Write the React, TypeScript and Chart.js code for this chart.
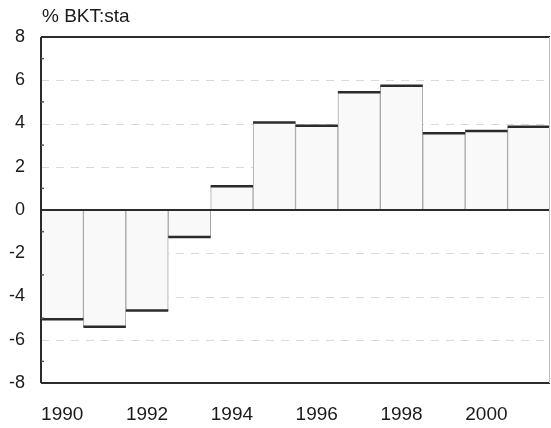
import React, { useEffect, useRef } from "react";
import { Chart, registerables } from "chart.js";

Chart.register(...registerables);

const years = ["1990", "1991", "1992", "1993", "1994", "1995", "1996", "1997", "1998", "1999", "2000", "2001"];
const values = [-5.05, -5.4, -4.65, -1.25, 1.1, 4.05, 3.9, 5.45, 5.75, 3.55, 3.65, 3.85];
const gridValues = [-6, -4, -2, 2, 4, 6];
const minorTickValues = [-7, -5, -3, -1, 1, 3, 5, 7];
const titleText = "% BKT:sta";
const FONT = "'Liberation Sans', Arial, Helvetica, sans-serif";

const deco = {
  id: "deco",
  beforeDatasetsDraw(chart: any) {
    const { ctx, chartArea: a, scales } = chart;
    const y = scales.y;
    ctx.save();
    ctx.strokeStyle = "rgba(0,0,0,0.15)";
    ctx.lineWidth = 1;
    ctx.setLineDash([8, 7]);
    for (const v of gridValues) {
      const py = Math.round(y.getPixelForValue(v)) + 0.5;
      ctx.beginPath();
      ctx.moveTo(a.left, py);
      ctx.lineTo(a.right, py);
      ctx.stroke();
    }
    ctx.restore();
  },
  afterDatasetsDraw(chart: any) {
    const { ctx, chartArea: a, scales } = chart;
    const y = scales.y;
    ctx.save();
    // bar value edges
    const meta = chart.getDatasetMeta(0);
    ctx.strokeStyle = "#2b2b2b";
    ctx.lineWidth = 2.5;
    meta.data.forEach((el: any) => {
      const p = el.getProps(["x", "y", "width"], true);
      ctx.beginPath();
      ctx.moveTo(p.x - p.width / 2, p.y);
      ctx.lineTo(p.x + p.width / 2, p.y);
      ctx.stroke();
    });
    // zero line
    const y0 = y.getPixelForValue(0);
    ctx.lineWidth = 2;
    ctx.strokeStyle = "#2b2b2b";
    ctx.beginPath();
    ctx.moveTo(a.left, y0);
    ctx.lineTo(a.right, y0);
    ctx.stroke();
    // frame
    ctx.beginPath();
    ctx.moveTo(a.left, a.top);
    ctx.lineTo(a.right, a.top);
    ctx.moveTo(a.left, a.bottom);
    ctx.lineTo(a.right, a.bottom);
    ctx.moveTo(a.left, a.top);
    ctx.lineTo(a.left, a.bottom);
    ctx.stroke();
    ctx.lineWidth = 1;
    ctx.strokeStyle = "#c0c0c0";
    ctx.beginPath();
    ctx.moveTo(a.right - 0.5, a.top);
    ctx.lineTo(a.right - 0.5, a.bottom);
    ctx.stroke();
    // minor ticks
    ctx.strokeStyle = "#555";
    ctx.lineWidth = 1.5;
    for (const v of minorTickValues) {
      const py = y.getPixelForValue(v);
      ctx.beginPath();
      ctx.moveTo(a.left, py);
      ctx.lineTo(a.left + 3, py);
      ctx.stroke();
    }
    // title
    ctx.fillStyle = "#1a1a1a";
    ctx.font = `19px ${FONT}`;
    ctx.textAlign = "left";
    ctx.textBaseline = "middle";
    ctx.fillText(titleText, a.left + 1, 17);
    ctx.restore();
  },
};

export default function App() {
  const ref = useRef<HTMLCanvasElement>(null);
  useEffect(() => {
    document.body.style.margin = "0";
    const chart = new Chart(ref.current!, {
      type: "bar",
      data: {
        labels: years,
        datasets: [
          {
            data: values,
            backgroundColor: "#f9f9f9",
            borderColor: "#a8a8a8",
            borderWidth: 1,
            barPercentage: 1,
            categoryPercentage: 1,
          },
        ],
      },
      options: {
        animation: false,
        responsive: false,
        layout: { padding: { top: 37, right: 1, left: 0, bottom: 0 } },
        plugins: { legend: { display: false }, tooltip: { enabled: false }, title: { display: false } },
        scales: {
          x: {
            grid: { display: false, drawTicks: false },
            border: { display: false },
            ticks: {
              autoSkip: false,
              maxRotation: 0,
              padding: 20,
              color: "#1a1a1a",
              font: { family: FONT, size: 19 },
              callback: (_v: any, i: number) => (i % 2 === 0 ? years[i] : ""),
            },
            afterFit: (s: any) => {
              s.height = 45;
            },
          },
          y: {
            min: -8,
            max: 8,
            grid: { display: false, drawTicks: false },
            border: { display: false },
            ticks: {
              stepSize: 2,
              padding: 16,
              color: "#1a1a1a",
              font: { family: FONT, size: 18 },
            },
            afterFit: (s: any) => {
              s.width = 41;
            },
          },
        },
      },
      plugins: [deco],
    });
    return () => chart.destroy();
  }, []);
  return (
    <div style={{ position: "absolute", left: 0, top: 0, width: 551, height: 428 }}>
      <canvas ref={ref} width={551} height={428} style={{ width: 551, height: 428 }} />
    </div>
  );
}
